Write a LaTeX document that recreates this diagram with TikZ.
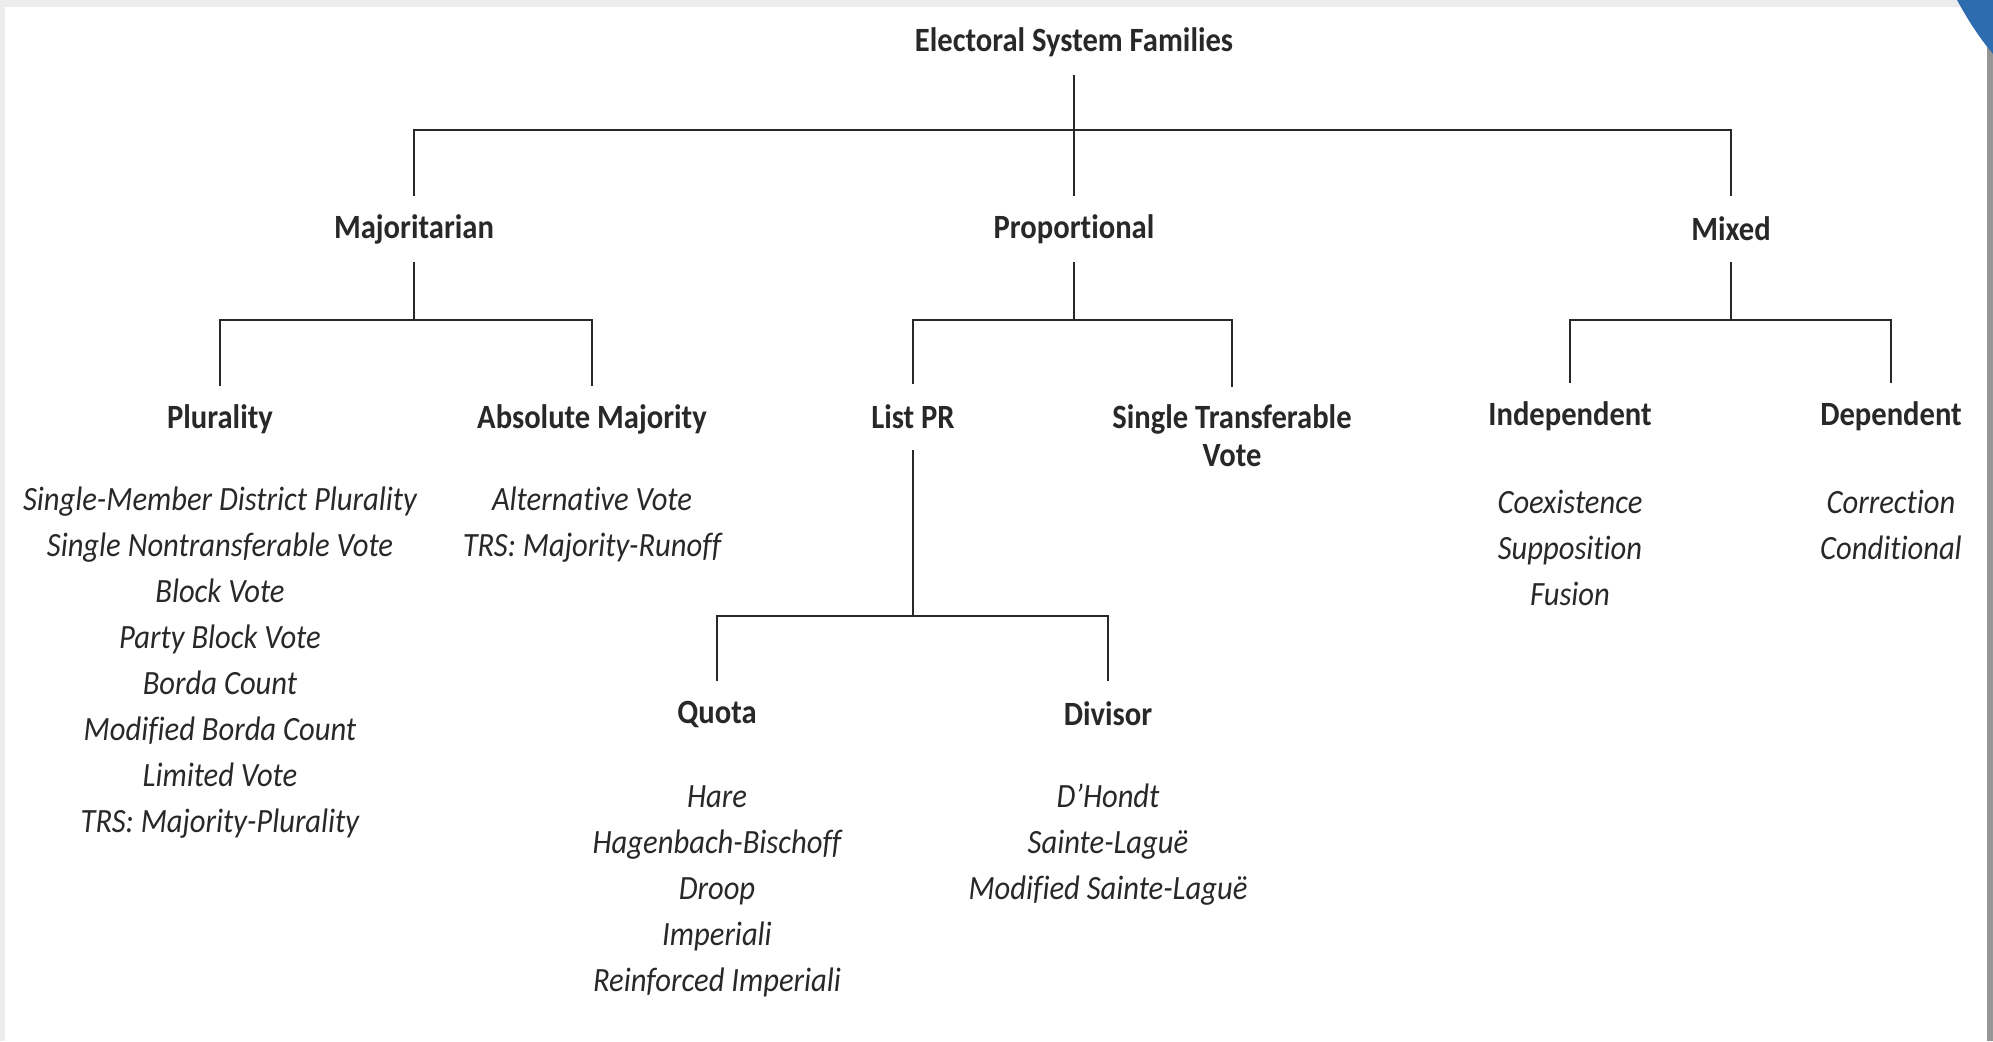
\documentclass[tikz,border=0pt]{standalone}
\usepackage{fontspec}
\setmainfont{Carlito}[FakeStretch=0.9, Ligatures=NoCommon]
\definecolor{inkgray}{RGB}{40,40,40}
\definecolor{framegray}{RGB}{236,236,236}
\definecolor{edgegray}{RGB}{150,150,150}
\definecolor{cornerblue}{RGB}{46,108,176}

\tikzset{every picture/.style={line width=1.4pt}}
\tikzset{
  head/.style={font=\fontsize{17}{19}\selectfont\bfseries, text=inkgray, inner sep=0pt, minimum height=32pt, align=center},
  leaves/.style={font=\fontsize{17}{23}\selectfont\itshape, text=inkgray, inner sep=0pt, align=center},
  link/.style={draw=inkgray},
}

\begin{document}
\begin{tikzpicture}[x=0.5pt,y=0.5pt,yscale=-1,xscale=1]
	\useasboundingbox (0,0) rectangle (1993,1041);

	%Frame of the screenshot
	\fill[framegray] (0,0) rectangle (1993,7);
	\fill[framegray] (0,0) rectangle (5,1041);
	\fill[edgegray] (1987,40) rectangle (1993,1041);
	\fill[cornerblue] (1957,0) .. controls (1968,20) and (1978,36) .. (1993,54) -- (1993,0) -- cycle;

	% Text Node
	\node[head] (fam) at (1074,42) {Electoral System Families};
	% Text Node
	\node[head] (maj) at (414,229) {Majoritarian};
	\node[head] (pro) at (1074,229) {Proportional};
	\node[head] (mix) at (1731,229) {Mixed};
	% Text Node
	\node[head] (plu) at (220,419) {Plurality};
	\node[head] (abs) at (592,419) {Absolute Majority};
	\node[head] (lpr) at (913,417) {List PR};
	\node[head, anchor=north, inner ysep=8pt] (stv) at (1232,387) {Single Transferable\\Vote};
	\node[head] (ind) at (1570,416) {Independent};
	\node[head] (dep) at (1891,416) {Dependent};
	% Text Node
	\node[head] (quo) at (717,714) {Quota};
	\node[head] (div) at (1108,714) {Divisor};

	% Lists of systems
	\node[leaves] (plulist) at (220,663) {Single-Member District Plurality\\Single Nontransferable Vote\\Block Vote\\Party Block Vote\\Borda Count\\Modified Borda Count\\Limited Vote\\TRS: Majority-Plurality};
	\node[leaves] (abslist) at (592,525) {Alternative Vote\\TRS: Majority-Runoff};
	\node[leaves] (indlist) at (1570,548) {Coexistence\\Supposition\\Fusion};
	\node[leaves] (deplist) at (1891,525) {Correction\\Conditional};
	\node[leaves] (quolist) at (717,891) {Hare\\Hagenbach-Bischoff\\Droop\\Imperiali\\Reinforced Imperiali};
	\node[leaves] (divlist) at (1108,845) {D'Hondt\\Sainte-Laguë\\Modified Sainte-Laguë};

	%Straight Lines
	\coordinate (jtop) at (1074,130);
	\draw[link] (fam.south) -- (pro.north);
	\draw[link] (maj.north) |- (jtop) -| (mix.north);
	%Straight Lines
	\coordinate (jmaj) at (414,320);
	\draw[link] (maj.south) -- (jmaj);
	\draw[link] (plu.north) |- (jmaj) -| (abs.north);
	\coordinate (jpro) at (1074,320);
	\draw[link] (pro.south) -- (jpro);
	\draw[link] (lpr.north) |- (jpro) -| (stv.north);
	\coordinate (jmix) at (1731,320);
	\draw[link] (mix.south) -- (jmix);
	\draw[link] (ind.north) |- (jmix) -| (dep.north);
	%Straight Lines
	\coordinate (jlpr) at (913,616);
	\draw[link] (lpr.south) -- (jlpr);
	\draw[link] (quo.north) |- (jlpr) -| (div.north);

\end{tikzpicture}
\end{document}
